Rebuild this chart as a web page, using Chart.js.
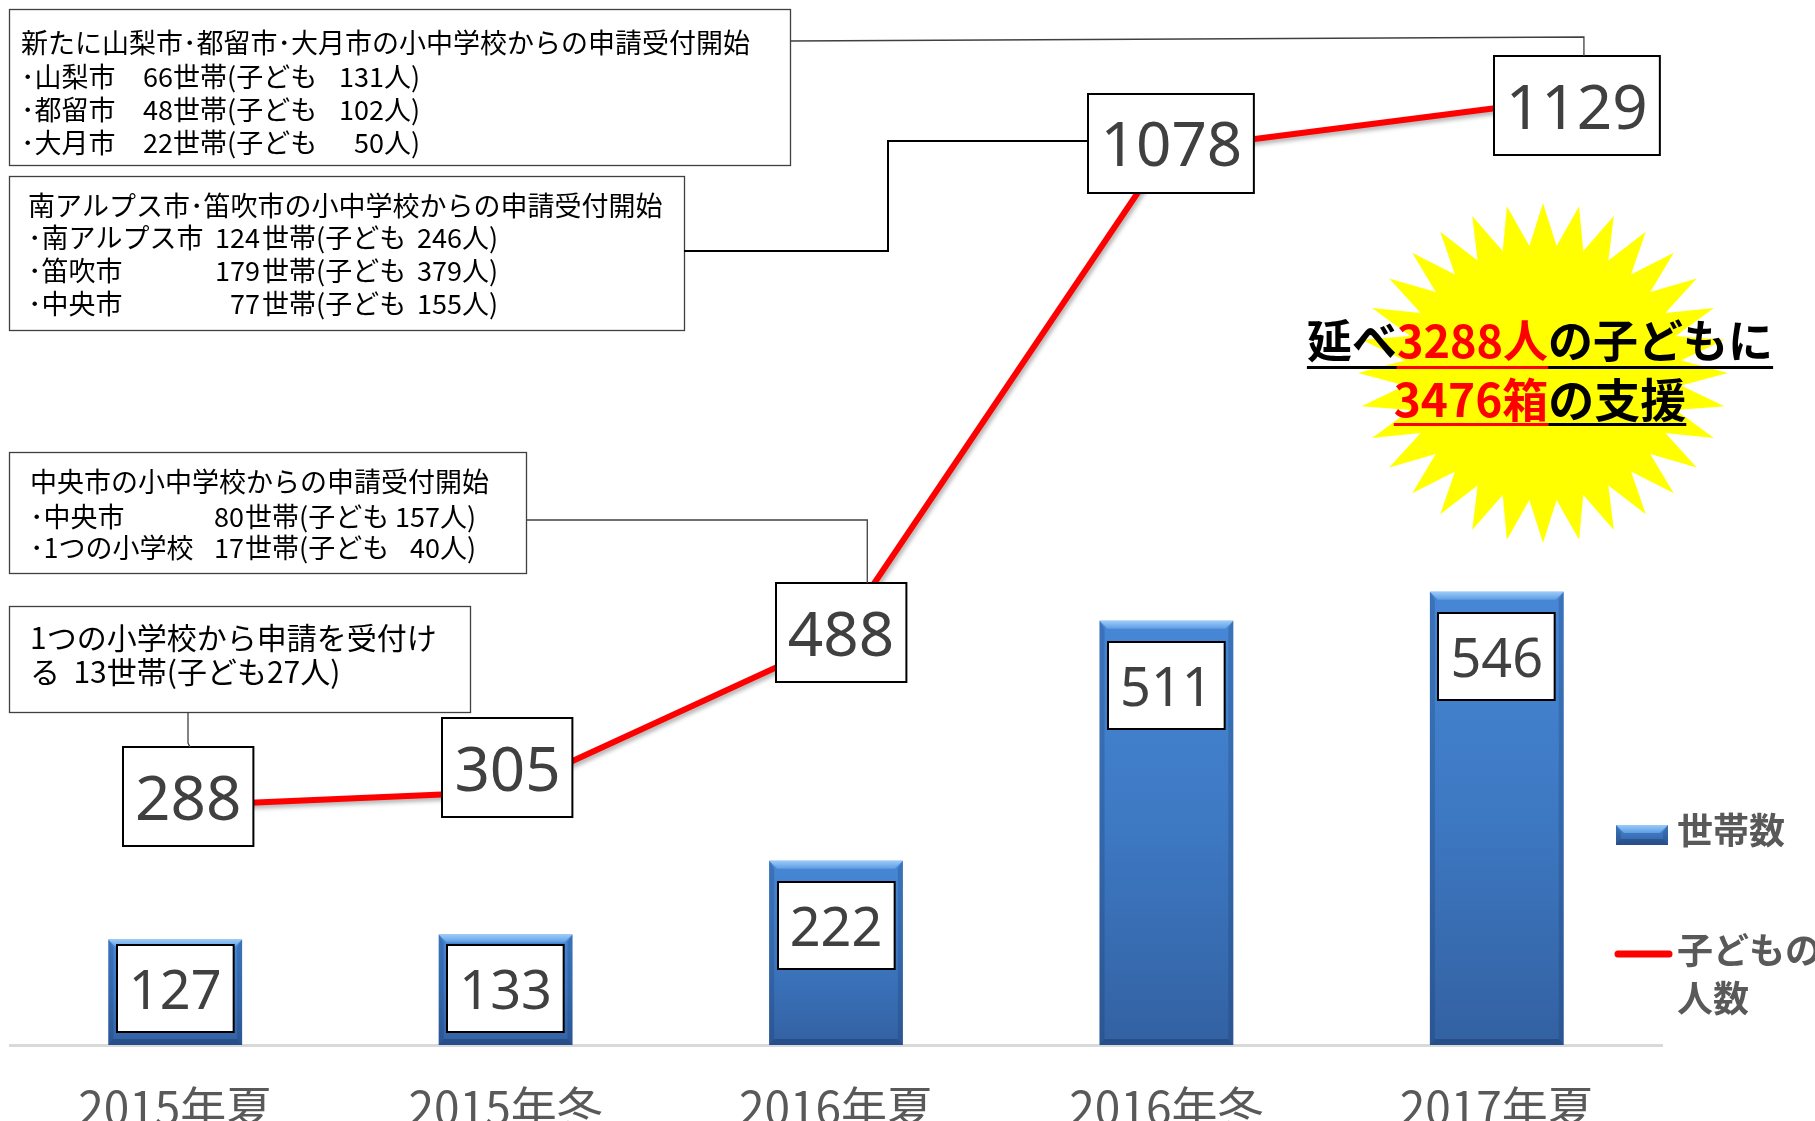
<!DOCTYPE html>
<html><head><meta charset="utf-8">
<script src="https://cdn.jsdelivr.net/npm/chart.js@4.4.1/dist/chart.umd.min.js"></script>
<style>html,body{margin:0;padding:0;background:#fff;}canvas{display:block}</style>
</head><body>
<canvas id="c" width="1815" height="1121"></canvas>
<script>
// ---- data ----
const categories = ['2015年夏', '2015年冬', '2016年夏', '2016年冬', '2017年夏'];
const households = [127, 133, 222, 511, 546];
const children = [288, 305, 488, 1078, 1129];
const seriesNames = ['世帯数', '子どもの人数'];
const legendLines = [['世帯数'], ['子どもの', '人数']];
const burstLine1 = [['延べ', '#000000'], ['3288人', '#FF0000'], ['の子どもに', '#000000']];
const burstLine2 = [['3476箱', '#FF0000'], ['の支援', '#000000']];
const note1 = [
  [['新たに山梨市･都留市･大月市の小中学校からの申請受付開始', 0]],
  [['･山梨市', 0], ['66', 1], ['世帯(子ども', 2], ['131', 3], ['人)', 4]],
  [['･都留市', 0], ['48', 1], ['世帯(子ども', 2], ['102', 3], ['人)', 4]],
  [['･大月市', 0], ['22', 1], ['世帯(子ども', 2], ['50', 3], ['人)', 4]]
];
const note2 = [
  [['南アルプス市･笛吹市の小中学校からの申請受付開始', 0]],
  [['･南アルプス市', 0], ['124', 1], ['世帯(子ども', 2], ['246', 3], ['人)', 4]],
  [['･笛吹市', 0], ['179', 1], ['世帯(子ども', 2], ['379', 3], ['人)', 4]],
  [['･中央市', 0], ['77', 1], ['世帯(子ども', 2], ['155', 3], ['人)', 4]]
];
const note3 = [
  [['中央市の小中学校からの申請受付開始', 0]],
  [['･中央市', 0], ['80', 1], ['世帯(子ども', 2], ['157', 3], ['人)', 4]],
  [['･1つの小学校', 0], ['17', 1], ['世帯(子ども', 2], ['40', 3], ['人)', 4]]
];
const note4 = [
  [['1つの小学校から申請を受付け', 0]],
  [['る  13世帯(子ども27人)', 0]]
];
const yMax = 1200;

// ---- styling / layout ----
const JP = '"Noto Sans CJK JP","Noto Sans",sans-serif';
const NUM = '"Noto Sans","Liberation Sans",sans-serif';
const lineLabelOffsets = [[13, -9], [2, -24], [5, -7], [5, -7], [80, -2]];
const noteStyles = [
  {box: [9, 9, 781, 156], size: 27, rowY: [43, 77, 110, 143], cols: [21, 173, 173, 384, 384]},
  {box: [9, 176, 675, 154], size: 27, rowY: [206, 238, 271, 304], cols: [28, 260, 262, 462, 462]},
  {box: [9, 452, 517, 121], size: 27, rowY: [482, 517, 548], cols: [30, 244, 245, 440, 440]},
  {box: [9, 606, 461, 106], size: 30, rowY: [638, 672], cols: [30]}
];
const notesData = [note1, note2, note3, note4];

function barGradient(ctx) {
  const chart = ctx.chart;
  const y = chart.scales && chart.scales.y;
  if (!y || ctx.type !== 'data') return '#3E7BC5';
  const top = y.getPixelForValue(ctx.raw);
  const base = y.getPixelForValue(0);
  if (!isFinite(top) || !isFinite(base) || top === base) return '#3E7BC5';
  const g = chart.ctx.createLinearGradient(0, top, 0, base);
  g.addColorStop(0, '#4787D5');
  g.addColorStop(0.5, '#3D78C2');
  g.addColorStop(1, '#3361A2');
  return g;
}

function bevel(c, left, right, top, bottom) {
  const b = 8;
  let g = c.createLinearGradient(0, top, 0, top + b);
  g.addColorStop(0, '#9ACBFA');
  g.addColorStop(1, '#5E9DE3');
  c.fillStyle = g;
  c.beginPath(); c.moveTo(left, top); c.lineTo(right, top); c.lineTo(right - b, top + b); c.lineTo(left + b, top + b); c.closePath(); c.fill();
  c.fillStyle = 'rgba(20,45,90,0.22)';
  c.beginPath(); c.moveTo(left, top); c.lineTo(left + 5, top + b); c.lineTo(left + 5, bottom - 6); c.lineTo(left, bottom); c.closePath(); c.fill();
  c.beginPath(); c.moveTo(right, top); c.lineTo(right - 5, top + b); c.lineTo(right - 5, bottom - 6); c.lineTo(right, bottom); c.closePath(); c.fill();
  c.fillStyle = 'rgba(10,30,70,0.28)';
  c.beginPath(); c.moveTo(left, bottom); c.lineTo(left + 5, bottom - 6); c.lineTo(right - 5, bottom - 6); c.lineTo(right, bottom); c.closePath(); c.fill();
}

function labelBox(c, cx, cy, text, size, h) {
  c.font = size + 'px ' + NUM;
  const w = c.measureText(text).width + 24;
  const x = Math.round(cx - w / 2), y = Math.round(cy - h / 2);
  c.fillStyle = '#FFFFFF';
  c.fillRect(x, y, w, h);
  c.strokeStyle = '#000000';
  c.lineWidth = 2;
  c.strokeRect(x, y, w, h);
  c.fillStyle = '#404040';
  c.textAlign = 'center';
  c.textBaseline = 'alphabetic';
  c.fillText(text, cx, cy + size * 0.357 + 1);
  return {x, y, w, h};
}

const labelBoxes = {line: [], bar: []};

const deco = {
  id: 'deco',
  beforeDatasetDraw(chart, args) {
    if (args.index === 1) {
      const c = chart.ctx;
      c.save();
      c.shadowColor = 'rgba(0,0,0,0.3)';
      c.shadowBlur = 4; c.shadowOffsetX = 2; c.shadowOffsetY = 3;
    }
  },
  afterDatasetDraw(chart, args) {
    const c = chart.ctx;
    if (args.index === 1) { c.restore(); return; }
    if (args.index === 0) {
      c.save();
      chart.getDatasetMeta(0).data.forEach(el => {
        const p = el.getProps(['x', 'y', 'base', 'width'], true);
        bevel(c, p.x - p.width / 2, p.x + p.width / 2, p.y, p.base);
      });
      c.restore();
    }
  },
  afterDatasetsDraw(chart) {
    const c = chart.ctx;
    c.save();
    const bMeta = chart.getDatasetMeta(0);
    bMeta.data.forEach((el, i) => {
      const p = el.getProps(['x', 'y', 'base'], true);
      const h = 87;
      let top = p.y + 21;
      if (top + h > p.base - 13) top = p.base - 13 - h;
      labelBoxes.bar[i] = labelBox(c, p.x, top + h / 2, String(households[i]), 54, h);
    });
    const lMeta = chart.getDatasetMeta(1);
    lMeta.data.forEach((el, i) => {
      const o = lineLabelOffsets[i];
      labelBoxes.line[i] = labelBox(c, el.x + o[0], el.y + o[1], String(children[i]), 62, 99);
    });
    c.restore();
  },
  afterDraw(chart) {
    const c = chart.ctx;
    c.save();
    notesData.forEach((rows, k) => {
      const s = noteStyles[k];
      const [bx, by, bw, bh] = s.box;
      c.fillStyle = '#FFFFFF';
      c.fillRect(bx, by, bw, bh);
      c.strokeStyle = '#404040'; c.lineWidth = 1.3;
      c.strokeRect(bx + 0.5, by + 0.5, bw, bh);
      c.fillStyle = '#000000';
      c.font = s.size + 'px ' + JP;
      c.textBaseline = 'middle';
      rows.forEach((segs, r) => {
        segs.forEach(([t, col]) => {
          c.textAlign = (col === 1 || col === 3) ? 'right' : 'left';
          c.fillText(t, s.cols[col], s.rowY[r]);
        });
      });
    });
    const L = labelBoxes.line;
    const n1 = noteStyles[0].box, n2 = noteStyles[1].box, n3 = noteStyles[2].box, n4 = noteStyles[3].box;
    if (L.length === 5) {
      c.strokeStyle = '#404040';
      c.lineWidth = 1.3;
      c.beginPath();
      c.moveTo(n1[0] + n1[2], 41); c.lineTo(L[4].x + L[4].w / 2 + 7, 37); c.lineTo(L[4].x + L[4].w / 2 + 7, L[4].y);
      c.stroke();
      c.strokeStyle = '#000000'; c.lineWidth = 2;
      c.beginPath();
      c.moveTo(n2[0] + n2[2], 251); c.lineTo(888, 251); c.lineTo(888, 141); c.lineTo(L[3].x, 141);
      c.stroke();
      c.strokeStyle = '#404040'; c.lineWidth = 1.3;
      c.beginPath();
      c.moveTo(n3[0] + n3[2], 520); c.lineTo(L[2].x + L[2].w * 0.7, 520); c.lineTo(L[2].x + L[2].w * 0.7, L[2].y);
      c.stroke();
      c.beginPath();
      c.moveTo(188, n4[1] + n4[3]); c.lineTo(188, L[0].y - 4); c.lineTo(190, L[0].y);
      c.stroke();
    }
    const cx = 1543, cy = 373, rx = 185, ry = 170, pts = 32;
    c.fillStyle = '#FFFF00';
    c.beginPath();
    for (let k = 0; k < pts * 2; k++) {
      const a = -Math.PI / 2 + k * Math.PI / pts;
      const f = k % 2 === 0 ? 1 : 0.75;
      const px = cx + Math.cos(a) * rx * f, py = cy + Math.sin(a) * ry * f;
      if (k === 0) c.moveTo(px, py); else c.lineTo(px, py);
    }
    c.closePath(); c.fill();
    function burst(segs, size, base, ul) {
      c.font = 'bold ' + size + 'px ' + JP;
      c.textAlign = 'left'; c.textBaseline = 'alphabetic';
      const widths = segs.map(s => c.measureText(s[0]).width);
      const total = widths.reduce((a, b) => a + b, 0);
      let x = 1540 - total / 2;
      segs.forEach((s, i) => {
        c.fillStyle = s[1];
        c.fillText(s[0], x, base);
        c.fillRect(x, ul, widths[i], 3);
        x += widths[i];
      });
    }
    burst(burstLine1, 45, 358, 366);
    burst(burstLine2, 46, 417, 423);
    const sw = [1616, 825, 52, 20];
    let g = c.createLinearGradient(0, sw[1], 0, sw[1] + sw[3]);
    g.addColorStop(0, '#4787D5'); g.addColorStop(1, '#3361A2');
    c.fillStyle = g; c.fillRect(sw[0], sw[1], sw[2], sw[3]);
    bevel(c, sw[0], sw[0] + sw[2], sw[1], sw[1] + sw[3]);
    c.strokeStyle = '#FF0000'; c.lineWidth = 7; c.lineCap = 'round';
    c.beginPath(); c.moveTo(1618, 954); c.lineTo(1669, 954); c.stroke();
    c.fillStyle = '#595959';
    c.font = 'bold 36px ' + JP;
    c.textAlign = 'left'; c.textBaseline = 'middle';
    c.fillText(legendLines[0][0], 1677, 830);
    c.fillText(legendLines[1][0], 1677, 950);
    c.fillText(legendLines[1][1], 1677, 998);
    c.restore();
  }
};

new Chart(document.getElementById('c'), {
  data: {
    labels: categories,
    datasets: [
      {type: 'bar', label: seriesNames[0], data: households, backgroundColor: barGradient,
       borderWidth: 0, categoryPercentage: 1, barPercentage: 0.405, order: 1},
      {type: 'line', label: seriesNames[1], data: children, borderColor: '#FF0000', borderWidth: 6,
       pointRadius: 0, pointHoverRadius: 0, tension: 0, fill: false, order: 0, clip: false}
    ]
  },
  options: {
    responsive: false,
    devicePixelRatio: 1,
    animation: false,
    events: [],
    layout: {padding: {left: 10, right: 153, top: 49, bottom: 0}},
    plugins: {legend: {display: false}, tooltip: {enabled: false}},
    scales: {
      x: {
        grid: {display: false},
        border: {display: true, color: '#D9D9D9', width: 3},
        ticks: {color: '#595959', font: {family: JP, size: 46, lineHeight: 1}, padding: 32,
                autoSkip: false, maxRotation: 0},
        afterFit(scale) { scale.height = 76; }
      },
      y: {display: false, min: 0, max: yMax}
    }
  },
  plugins: [deco]
});
</script>
</body></html>
